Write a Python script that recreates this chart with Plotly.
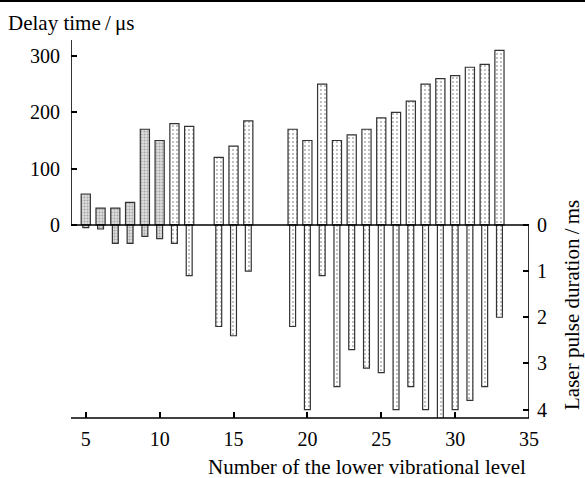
import plotly.graph_objects as go

levels = [5, 6, 7, 8, 9, 10, 11, 12, 14, 15, 16,
          19, 20, 21, 22, 23, 24, 25, 26, 27, 28, 29, 30, 31, 32, 33]
delay_us = [55, 30, 30, 40, 170, 150, 180, 175, 120, 140, 185,
            170, 150, 250, 150, 160, 170, 190, 200, 220, 250, 260, 265, 280, 285, 310]
pulse_ms = [0.06, 0.09, 0.4, 0.4, 0.25, 0.3, 0.4, 1.1, 2.2, 2.4, 1.0,
            2.2, 4.0, 1.1, 3.5, 2.7, 3.1, 3.2, 4.0, 3.5, 4.0, 4.2, 4.0, 3.8, 3.5, 2.0]
dense_levels = [5, 6, 7, 8, 9, 10]
x_ticks = [5, 10, 15, 20, 25, 30, 35]
delay_ticks = [0, 100, 200, 300]
pulse_ticks = [0, 1, 2, 3, 4]

FONT = "Liberation Serif"
W, H = 585, 478
L, R, T, B = 71, 56, 40, 60
plot_h = H - T - B
plot_w = W - L - R

y_top = 328.4
y_bot = -342.6
p_top = -4.0
p_bot = 4.18

def split(vals, dense):
    xs, ys = [], []
    for lv, v in zip(levels, vals):
        if (lv in dense_levels) == dense:
            xs.append(lv)
            ys.append(v)
    return xs, ys

dense_pat = dict(shape=".", fgcolor="#707070", bgcolor="#dedede", size=3, solidity=0.4)
light_pat = dict(shape=".", fgcolor="#555555", bgcolor="#ffffff", size=4, solidity=0.18)
line = dict(color="#333333", width=1.2)

fig = go.Figure()
for dense, pat in [(True, dense_pat), (False, light_pat)]:
    xs, ys = split(delay_us, dense)
    fig.add_trace(go.Bar(x=xs, y=ys, width=0.62, yaxis="y",
                         marker=dict(color="white", pattern=pat, line=line),
                         showlegend=False, hoverinfo="x+y"))
    xs, ys = split(pulse_ms, dense)
    fig.add_trace(go.Bar(x=xs, y=ys, width=0.4, yaxis="y2",
                         marker=dict(color="white", pattern=pat, line=line),
                         showlegend=False, hoverinfo="x+y"))

tickfont = dict(family=FONT, size=20, color="black")
fig.update_layout(
    width=W, height=H,
    margin=dict(l=L, r=R, t=T, b=B),
    paper_bgcolor="white", plot_bgcolor="white",
    barmode="overlay",
    xaxis=dict(range=[4, 35], tickvals=x_ticks, ticks="inside", ticklen=6,
               tickcolor="black", tickwidth=1.5, showgrid=False, zeroline=False,
               showline=False, tickfont=tickfont, ticklabelstandoff=7),
    yaxis=dict(range=[y_bot, y_top], tickvals=delay_ticks, ticks="inside", ticklen=6,
               tickcolor="black", tickwidth=1.5, showgrid=False, zeroline=False,
               showline=False, tickfont=tickfont, ticklabelstandoff=10),
    yaxis2=dict(range=[p_bot, p_top], overlaying="y", side="right", tickvals=pulse_ticks,
                ticks="inside", ticklen=6, tickcolor="black", tickwidth=1.5,
                showgrid=False, zeroline=False, showline=False, tickfont=tickfont,
                ticklabelstandoff=7),
)

lw = 1.6
shapes = [
    dict(type="line", xref="x", yref="y", x0=4, x1=4, y0=0, y1=y_top, line=dict(color="black", width=lw)),
    dict(type="line", xref="x", yref="y", x0=4, x1=35, y0=0, y1=0, line=dict(color="black", width=lw)),
    dict(type="line", xref="x", yref="y2", x0=35, x1=35, y0=0, y1=p_bot, line=dict(color="black", width=lw)),
    dict(type="line", xref="x", yref="paper", x0=4, x1=35, y0=0, y1=0, line=dict(color="black", width=lw)),
    dict(type="line", xref="paper", yref="paper", x0=-L / plot_w, x1=(W - L) / plot_w,
         y0=(plot_h + T - 1) / plot_h, y1=(plot_h + T - 1) / plot_h, line=dict(color="black", width=2)),
]
fig.update_layout(shapes=shapes)

def px_x(px):
    return (px - L) / plot_w

def px_y(py):
    return (H - B - py) / plot_h

titlefont = dict(family=FONT, size=21, color="black")
fig.add_annotation(text="Delay time\u2009/\u2009μs", xref="paper", yref="paper", x=px_x(6), y=px_y(23),
                   xanchor="left", yanchor="middle", showarrow=False, font=titlefont)
fig.add_annotation(text="Number of the lower vibrational level", xref="paper", yref="paper",
                   x=px_x(367), y=px_y(467), xanchor="center", yanchor="middle",
                   showarrow=False, font=titlefont)
fig.add_annotation(text="Laser pulse duration\u2009/\u2009ms", xref="paper", yref="paper",
                   x=px_x(572), y=px_y(305), xanchor="center", yanchor="middle",
                   textangle=-90, showarrow=False, font=titlefont)

fig.write_html("out.html")
